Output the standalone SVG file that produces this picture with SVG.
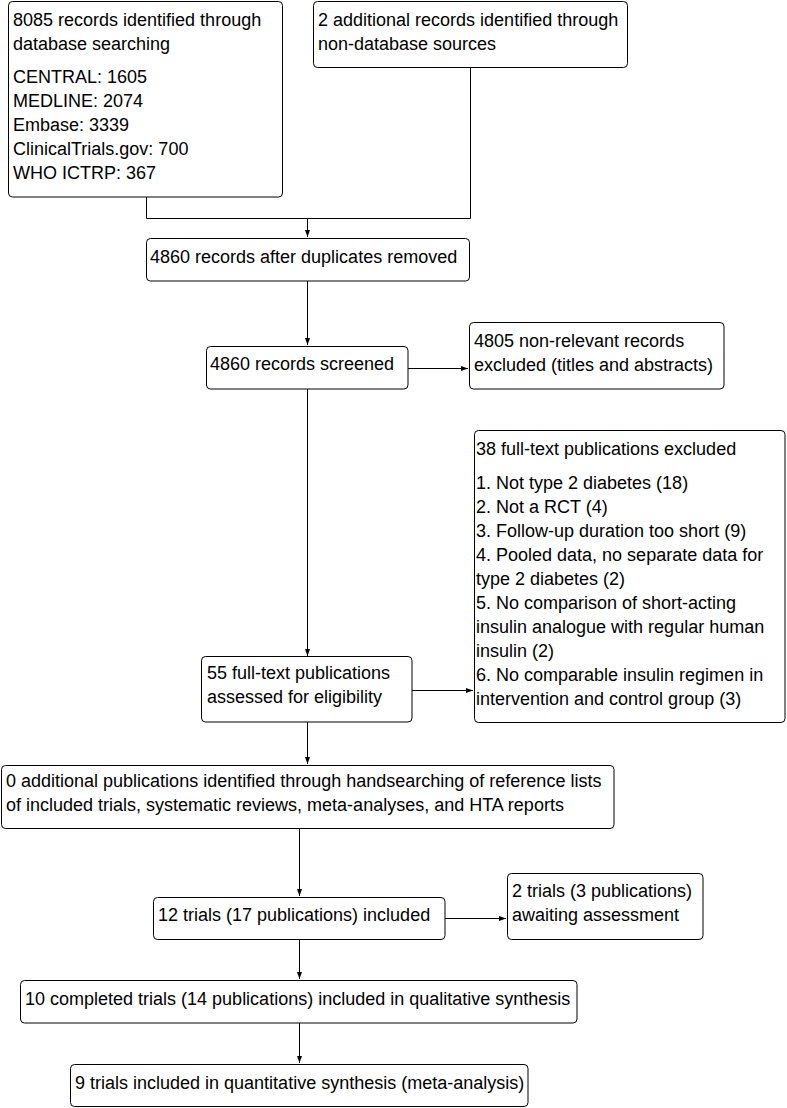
<svg xmlns="http://www.w3.org/2000/svg" width="787" height="1108" viewBox="0 0 787 1108">
<defs>
<marker id="ah" markerWidth="8" markerHeight="6" refX="7" refY="3" orient="auto" markerUnits="userSpaceOnUse">
<path d="M0,0.5 L7,3 L0,5.5 Z" fill="#000"/>
</marker>
<style>
rect{fill:#fff;stroke:#000;stroke-width:1}
text{font-family:"Liberation Sans",Arial,sans-serif;font-size:18px;fill:#000}
.c{fill:none;stroke:#000;stroke-width:1}
</style>
</defs>
<rect x="0" y="0" width="787" height="1108" style="stroke:none"/>
<g id="connectors">
<polyline class="c" points="146.5,197 146.5,218.5 470.5,218.5 470.5,67"/>
<line class="c" x1="307.5" y1="218.5" x2="307.5" y2="237" marker-end="url(#ah)"/>
<line class="c" x1="307.5" y1="281" x2="307.5" y2="345" marker-end="url(#ah)"/>
<line class="c" x1="408" y1="368.5" x2="468" y2="368.5" marker-end="url(#ah)"/>
<line class="c" x1="307.5" y1="389" x2="307.5" y2="656" marker-end="url(#ah)"/>
<line class="c" x1="412" y1="690.5" x2="473" y2="690.5" marker-end="url(#ah)"/>
<line class="c" x1="307.5" y1="722" x2="307.5" y2="764" marker-end="url(#ah)"/>
<line class="c" x1="299.5" y1="829" x2="299.5" y2="896" marker-end="url(#ah)"/>
<line class="c" x1="445" y1="918.5" x2="506" y2="918.5" marker-end="url(#ah)"/>
<line class="c" x1="299.5" y1="939" x2="299.5" y2="979" marker-end="url(#ah)"/>
<line class="c" x1="299.5" y1="1023" x2="299.5" y2="1063" marker-end="url(#ah)"/>
</g>
<g id="n-db">
<rect x="8.5" y="1.5" width="274" height="195.5" rx="4"/>
<text x="13" y="26">8085 records identified through</text>
<text x="13" y="50">database searching</text>
<text x="13" y="83">CENTRAL: 1605</text>
<text x="13" y="107">MEDLINE: 2074</text>
<text x="13" y="131">Embase: 3339</text>
<text x="13" y="155">ClinicalTrials.gov: 700</text>
<text x="13" y="179">WHO ICTRP: 367</text>
</g>
<g id="n-other">
<rect x="313.5" y="1.5" width="314" height="66" rx="4"/>
<text x="318" y="26">2 additional records identified through</text>
<text x="318" y="50">non-database sources</text>
</g>
<g id="n-dup">
<rect x="146.5" y="238.5" width="323" height="42.5" rx="4"/>
<text x="150" y="263">4860 records after duplicates removed</text>
</g>
<g id="n-screened">
<rect x="206.5" y="346.5" width="201.5" height="42.5" rx="4"/>
<text x="210" y="370">4860 records screened</text>
</g>
<g id="n-excl1">
<rect x="469.5" y="322.5" width="254.5" height="66.5" rx="4"/>
<text x="474" y="347">4805 non-relevant records</text>
<text x="474" y="371">excluded (titles and abstracts)</text>
</g>
<g id="n-excl2">
<rect x="474.5" y="430.5" width="310.5" height="292" rx="4"/>
<text x="476" y="455">38 full-text publications excluded</text>
<text x="476" y="489">1. Not type 2 diabetes (18)</text>
<text x="476" y="513">2. Not a RCT (4)</text>
<text x="476" y="537">3. Follow-up duration too short (9)</text>
<text x="476" y="561">4. Pooled data, no separate data for</text>
<text x="476" y="585">type 2 diabetes (2)</text>
<text x="476" y="609">5. No comparison of short-acting</text>
<text x="476" y="633">insulin analogue with regular human</text>
<text x="476" y="657">insulin (2)</text>
<text x="476" y="681">6. No comparable insulin regimen in</text>
<text x="476" y="705">intervention and control group (3)</text>
</g>
<g id="n-fulltext">
<rect x="201.5" y="656.5" width="210.5" height="65.5" rx="4"/>
<text x="207" y="679">55 full-text publications</text>
<text x="207" y="703">assessed for eligibility</text>
</g>
<g id="n-hand">
<rect x="1.5" y="765.5" width="612.5" height="63" rx="4"/>
<text x="6" y="787">0 additional publications identified through handsearching of reference lists</text>
<text x="6" y="811">of included trials, systematic reviews, meta-analyses, and HTA reports</text>
</g>
<g id="n-included">
<rect x="153.5" y="897.5" width="291.5" height="42" rx="4"/>
<text x="158" y="921">12 trials (17 publications) included</text>
</g>
<g id="n-await">
<rect x="507.5" y="873.5" width="195.5" height="66" rx="4"/>
<text x="512" y="897">2 trials (3 publications)</text>
<text x="512" y="921">awaiting assessment</text>
</g>
<g id="n-qual">
<rect x="20.5" y="980.5" width="556.5" height="42.5" rx="4"/>
<text x="25" y="1005">10 completed trials (14 publications) included in qualitative synthesis</text>
</g>
<g id="n-quant">
<rect x="70.5" y="1064.5" width="457.5" height="42" rx="4"/>
<text x="75" y="1089">9 trials included in quantitative synthesis (meta-analysis)</text>
</g>
</svg>
